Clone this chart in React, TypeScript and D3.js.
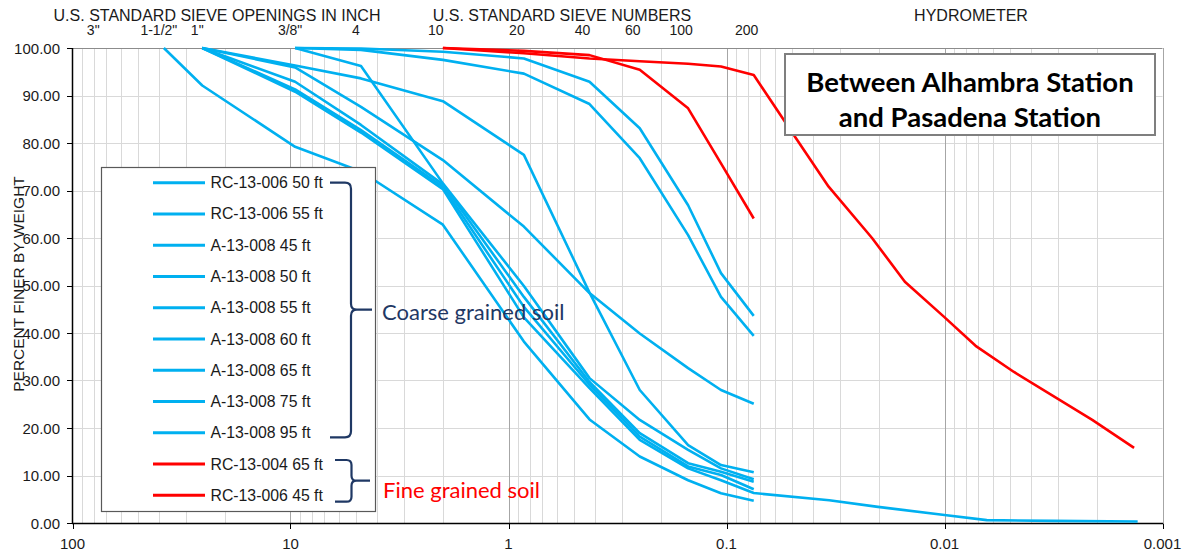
import React from "react";
import * as d3 from "d3";

// Sieve openings (mm) used for the mechanical analysis points
const sieveSizes = [38.1, 25.4, 9.525, 4.75, 2.0, 0.85, 0.425, 0.25, 0.15, 0.106, 0.075];

// Percent finer at each sieve (null = not plotted)
const rc006_50 = [null, null, 100, 99.9, 99.2, 97.8, 92.9, 83.1, 66.9, 52.6, 43.6];
const rc006_55 = [null, null, 100, 99.6, 97.5, 94.6, 88.2, 76.8, 60.6, 47.6, 39.4];
const a008_45 = [null, 100, 96.3, 93.6, 88.8, 77.5, 48.5, 28.0, 16.4, 12.2, 10.7];
const a008_50 = [null, 100, 95.9, 87.6, 76.4, 62.4, 48.4, 39.9, 32.6, 28.0, 25.1];
const a008_55 = [null, null, 100, 96.2, 71.5, 49.9, 30.5, 21.7, 15.4, 11.5, 9.2];
const a008_60 = [null, 100, 92.9, 83.8, 71.3, 47.6, 29.7, 18.9, 12.6, 10.8, 8.7];
const a008_65 = [null, 100, 91.3, 82.7, 70.8, 45.5, 29.1, 18.2, 11.9, 10.1, 7.1];
const a008_75 = [null, 100, 90.8, 82.2, 70.3, 43.3, 28.4, 17.5, 11.5, 9.0, 6.3];
const a008_95 = [100, 92.1, 79.2, 74.0, 62.8, 38.2, 21.8, 14.0, 9.0, 6.25, 4.7];
const rc004_65 = [null, null, null, null, 100, 99.4, 98.5, 95.4, 87.3, 75.7, 64.1];
const rc006_45 = [null, null, null, null, 100, 98.9, 97.8, 97.2, 96.7, 96.1, 94.3];

// Hydrometer readings (diameter mm, percent finer)
const a008_75HydroSize = [0.0338, 0.0202, 0.01, 0.0064, 0.0032, 0.0013];
const a008_75HydroPct = [4.8, 3.4, 1.7, 0.6, 0.45, 0.3];
const rc006_45HydroSize = [0.048, 0.034, 0.0215, 0.0152, 0.0101, 0.0072, 0.0048, 0.0021, 0.00135];
const rc006_45HydroPct = [81.0, 70.8, 60.0, 50.8, 43.5, 37.3, 31.8, 21.7, 15.8];

// Top annotations
const inchLabels = ['3"', '1-1/2"', '1"', '3/8"', "4"];
const inchSizes = [76.2, 38.1, 25.4, 9.525, 4.75];
const numberLabels = ["10", "20", "40", "60", "100", "200"];
const numberSizes = [2.0, 0.85, 0.425, 0.25, 0.15, 0.075];

const yTicks = [0, 10, 20, 30, 40, 50, 60, 70, 80, 90, 100];
const xDecades = [100, 10, 1, 0.1, 0.01, 0.001];

const BLUE = "#00b0f0";
const RED = "#ff0000";
const NAVY = "#1f3864";

const seriesList = [
  { name: "RC-13-006 50 ft", color: BLUE, pct: rc006_50 },
  { name: "RC-13-006 55 ft", color: BLUE, pct: rc006_55 },
  { name: "A-13-008 45 ft", color: BLUE, pct: a008_45 },
  { name: "A-13-008 50 ft", color: BLUE, pct: a008_50 },
  { name: "A-13-008 55 ft", color: BLUE, pct: a008_55 },
  { name: "A-13-008 60 ft", color: BLUE, pct: a008_60 },
  { name: "A-13-008 65 ft", color: BLUE, pct: a008_65 },
  { name: "A-13-008 75 ft", color: BLUE, pct: a008_75, hs: a008_75HydroSize, hp: a008_75HydroPct },
  { name: "A-13-008 95 ft", color: BLUE, pct: a008_95 },
  { name: "RC-13-004 65 ft", color: RED, pct: rc004_65 },
  { name: "RC-13-006 45 ft", color: RED, pct: rc006_45, hs: rc006_45HydroSize, hp: rc006_45HydroPct },
];

const FONT = "Arial, 'Liberation Sans', sans-serif";
const CAL = "Lato, 'Open Sans', sans-serif";

// Curly brace: tips at x0, spine at xv, centre point at xm
function brace(x0: number, xv: number, xm: number, y0: number, ym: number, y1: number, r: number) {
  return [
    `M${x0},${y0}`,
    `L${xv - r},${y0}`,
    `Q${xv},${y0} ${xv},${y0 + r}`,
    `L${xv},${ym - r}`,
    `Q${xv},${ym} ${xv + r},${ym}`,
    `L${xm},${ym}`,
    `M${xv + r},${ym}`,
    `Q${xv},${ym} ${xv},${ym + r}`,
    `L${xv},${y1 - r}`,
    `Q${xv},${y1} ${xv - r},${y1}`,
    `L${x0},${y1}`,
  ].join(" ");
}

export default function App() {
  const W = 1186, H = 554;
  const x = d3.scaleLog().domain([100, 0.001]).range([72.5, 1162.5]);
  const y = d3.scaleLinear().domain([0, 100]).range([523, 48]);
  const line = d3.line<[number, number]>().x((d) => x(d[0])).y((d) => y(d[1]));

  const minor: number[] = [];
  [0.001, 0.01, 0.1, 1, 10].forEach((b) => {
    for (let m = 2; m <= 9; m++) minor.push(b * m);
  });

  const paths = seriesList.map((s) => {
    const pts: [number, number][] = [];
    s.pct.forEach((p, i) => {
      if (p !== null) pts.push([sieveSizes[i], p]);
    });
    if (s.hs) s.hs.forEach((d, i) => pts.push([d, s.hp![i]]));
    return { ...s, d: line(pts) || "" };
  });

  const drawOrder = [...paths.filter((p) => p.color === BLUE), ...paths.filter((p) => p.color === RED)];

  const legX = 101.5, legY = 167.5, legW = 274, legH = 344;
  const rowY0 = 182.7, rowStep = 31.26;

  return (
    <svg width={W} height={H} style={{ position: "absolute", left: 0, top: 0, background: "#fff" }}>
      <rect x={0} y={0} width={W} height={H} fill="#fff" />
      {/* gridlines */}
      {minor.map((v) => (
        <line key={"mi" + v} x1={Math.round(x(v)) + 0.5} x2={Math.round(x(v)) + 0.5} y1={48} y2={523} stroke="#d9d9d9" strokeWidth={1} />
      ))}
      {yTicks.filter((t) => t > 0 && t < 100).map((t) => (
        <line key={"hy" + t} x1={72.5} x2={1162.5} y1={Math.round(y(t)) + 0.5} y2={Math.round(y(t)) + 0.5} stroke="#d9d9d9" strokeWidth={1} />
      ))}
      {xDecades.slice(1).map((v) => (
        <line key={"ma" + v} x1={Math.round(x(v)) + 0.5} x2={Math.round(x(v)) + 0.5} y1={48} y2={523} stroke="#a6a6a6" strokeWidth={1} />
      ))}
      <line x1={72.5} x2={1162.5} y1={48.5} y2={48.5} stroke="#8c8c8c" strokeWidth={1} />

      {/* axes */}
      <line x1={72.5} x2={72.5} y1={48} y2={523.5} stroke="#000" strokeWidth={1.5} />
      <line x1={72} x2={1163} y1={523.5} y2={523.5} stroke="#000" strokeWidth={1.5} />
      {yTicks.map((t) => (
        <g key={"yt" + t}>
          <line x1={67} x2={72.5} y1={Math.round(y(t)) + 0.5} y2={Math.round(y(t)) + 0.5} stroke="#000" />
          <text x={60} y={y(t) + 5.5} textAnchor="end" fontFamily={FONT} fontSize={15} fill="#1a1a1a">
            {t.toFixed(2)}
          </text>
        </g>
      ))}
      {xDecades.map((v) => (
        <g key={"xt" + v}>
          <line x1={Math.round(x(v)) + 0.5} x2={Math.round(x(v)) + 0.5} y1={523.5} y2={529} stroke="#000" />
          <text x={x(v)} y={549} textAnchor="middle" fontFamily={FONT} fontSize={15} fill="#1a1a1a">
            {String(v)}
          </text>
        </g>
      ))}

      {/* axis title */}
      <text transform="translate(24,284) rotate(-90)" textAnchor="middle" fontFamily={FONT} fontSize={15.5} fill="#1a1a1a">
        PERCENT FINER BY WEIGHT
      </text>

      {/* top headings */}
      <text x={217} y={21} textAnchor="middle" fontFamily={FONT} fontSize={16} fill="#1a1a1a">U.S. STANDARD SIEVE OPENINGS IN INCH</text>
      <text x={562} y={21} textAnchor="middle" fontFamily={FONT} fontSize={16} fill="#1a1a1a">U.S. STANDARD SIEVE NUMBERS</text>
      <text x={971} y={21} textAnchor="middle" fontFamily={FONT} fontSize={16} fill="#1a1a1a">HYDROMETER</text>
      {inchLabels.map((l, i) => (
        <text key={"il" + l} x={x(inchSizes[i]) - 5} y={35} textAnchor="middle" fontFamily={FONT} fontSize={14} fill="#1a1a1a">{l}</text>
      ))}
      {numberLabels.map((l, i) => (
        <text key={"nl" + l} x={x(numberSizes[i]) - 7} y={35} textAnchor="middle" fontFamily={FONT} fontSize={14} fill="#1a1a1a">{l}</text>
      ))}

      {/* gradation curves */}
      {drawOrder.map((p) => (
        <path key={p.name} d={p.d} fill="none" stroke={p.color} strokeWidth={2.6} strokeLinejoin="round" />
      ))}

      {/* legend */}
      <rect x={legX} y={legY} width={legW} height={legH} fill="#fff" stroke="#595959" strokeWidth={1.2} />
      {seriesList.map((s, i) => (
        <g key={"lg" + s.name}>
          <line x1={153} x2={205} y1={rowY0 + i * rowStep} y2={rowY0 + i * rowStep} stroke={s.color} strokeWidth={3} />
          <text x={210.5} y={rowY0 + i * rowStep + 5.5} fontFamily={FONT} fontSize={15.8} fill="#1a1a1a">{s.name}</text>
        </g>
      ))}

      {/* group braces */}
      <path d={brace(330, 351, 372, 182.7, 309.7, 437.3, 6)} fill="none" stroke={NAVY} strokeWidth={2.2} />
      <text x={382} y={319.5} fontFamily={CAL} fontSize={22} fill={NAVY}>Coarse grained soil</text>
      <path d={brace(335, 351.5, 370, 460, 480.7, 501.7, 5)} fill="none" stroke={NAVY} strokeWidth={2.2} />
      <text x={383} y={497.5} fontFamily={CAL} fontSize={22} fill={RED}>Fine grained soil</text>

      {/* title box */}
      <rect x={785} y={54} width={370} height={81} fill="#fff" stroke="#7f7f7f" strokeWidth={2} />
      <text x={970} y={92} textAnchor="middle" fontFamily={CAL} fontWeight="bold" fontSize={27.5} fill="#000">Between Alhambra Station</text>
      <text x={970} y={127} textAnchor="middle" fontFamily={CAL} fontWeight="bold" fontSize={27.5} fill="#000">and Pasadena Station</text>
    </svg>
  );
}
